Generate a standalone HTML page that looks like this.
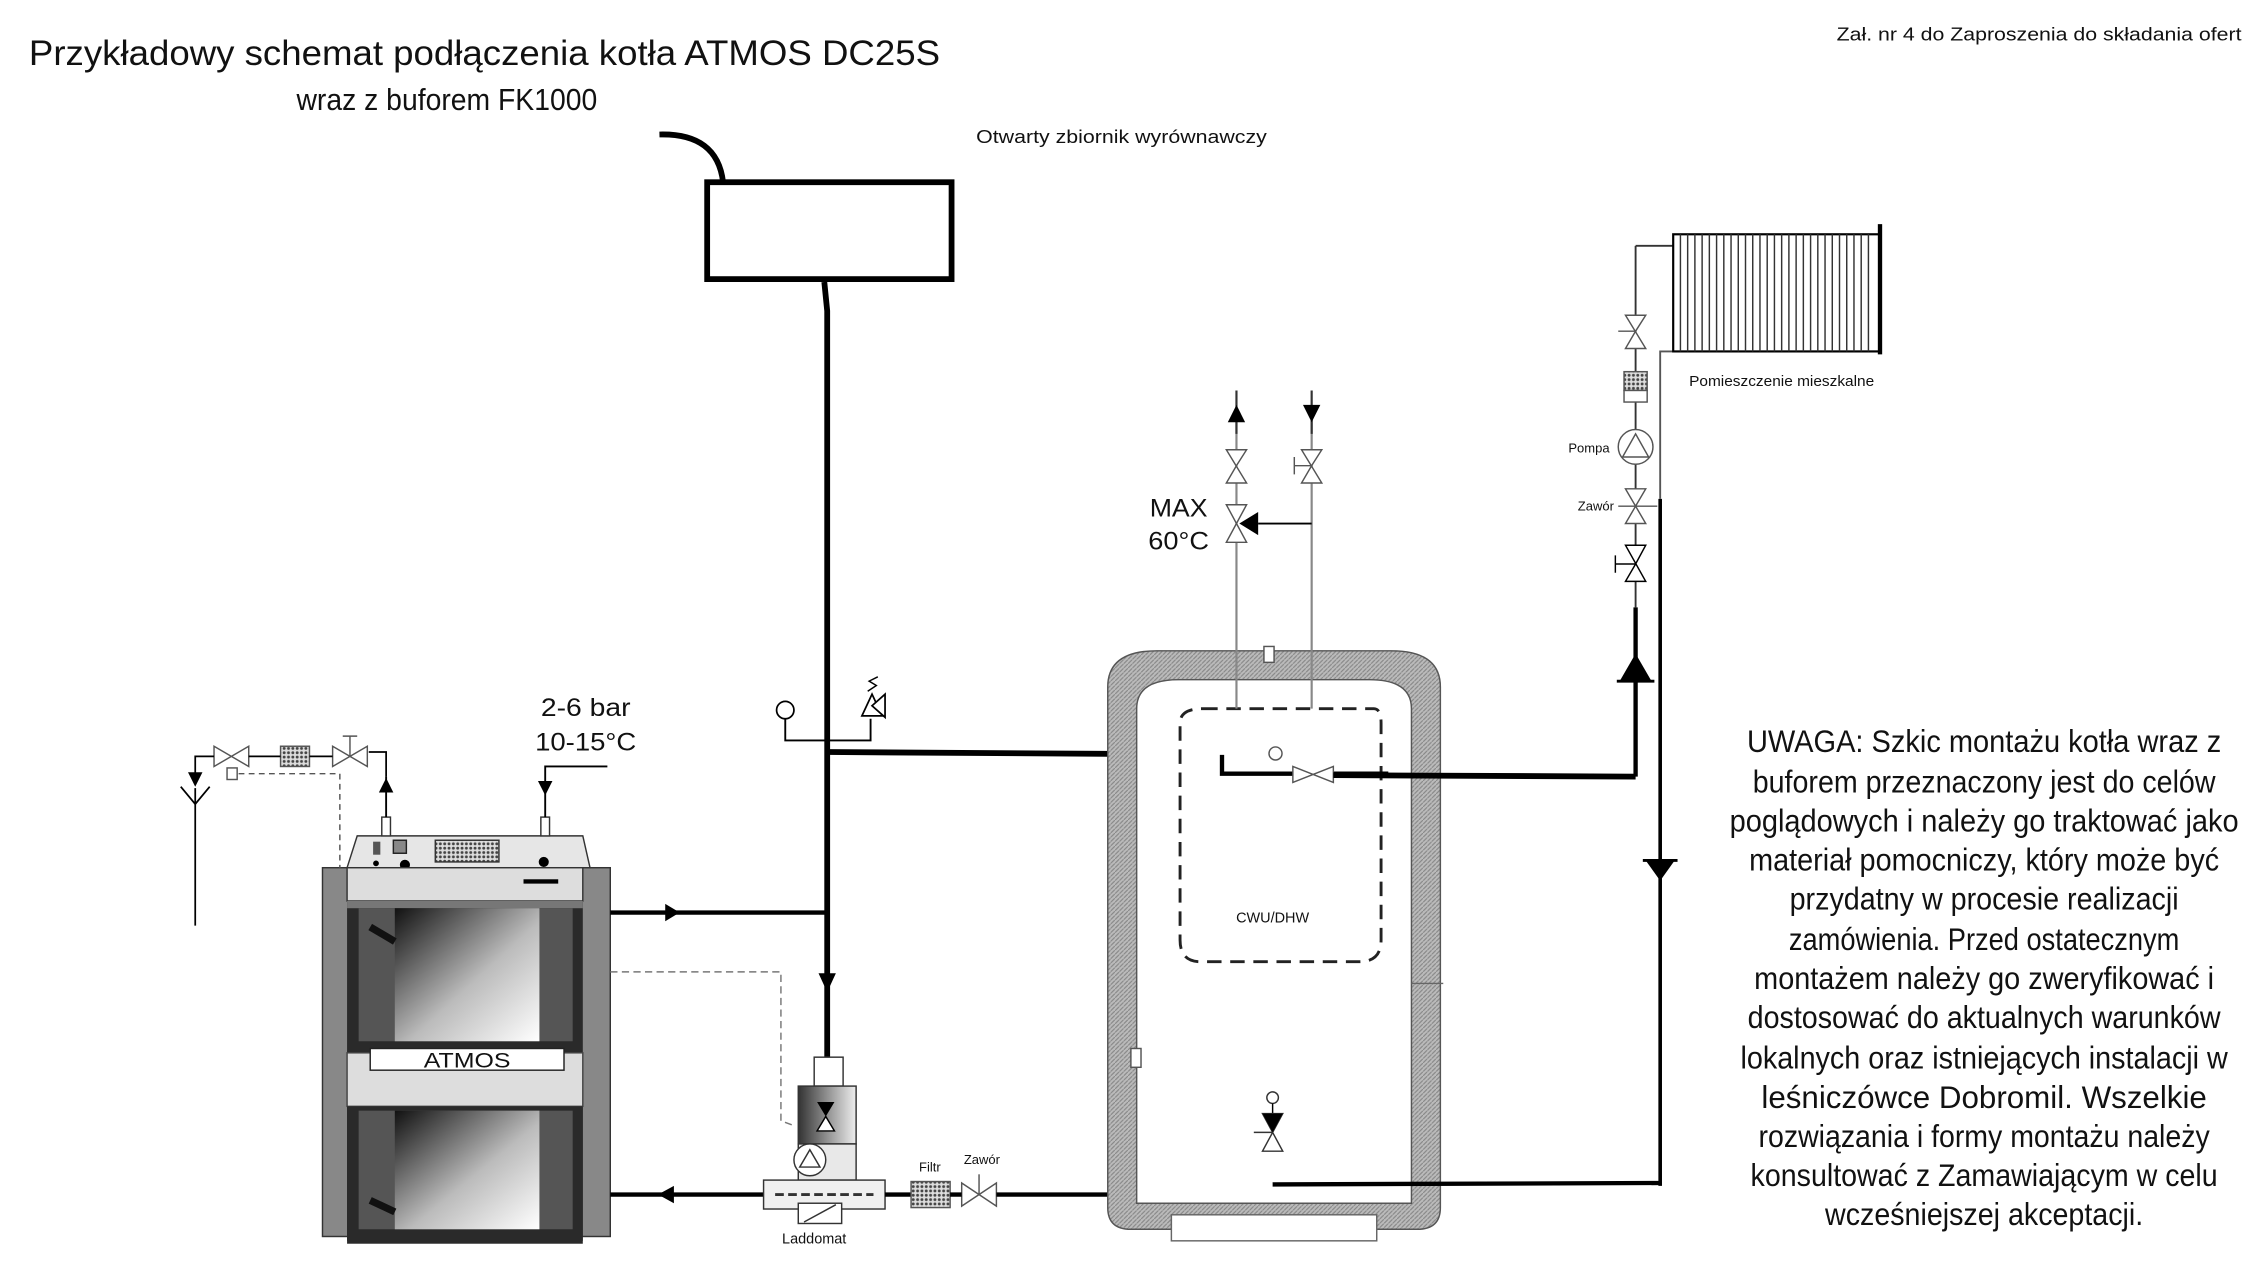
<!DOCTYPE html>
<html><head><meta charset="utf-8">
<style>
html,body{margin:0;padding:0;background:#fff;}
svg{display:block;}
text{font-family:"Liberation Sans",sans-serif;fill:#111;}
</style></head><body>
<svg width="2256" height="1278" viewBox="0 0 1560 883.7" preserveAspectRatio="none" xmlns="http://www.w3.org/2000/svg">
<defs>
<pattern id="hatch" width="3" height="3" patternUnits="userSpaceOnUse">
<rect width="3" height="3" fill="#bbb"/><path d="M0 3L3 0" stroke="#888" stroke-width="0.8"/>
</pattern>
<pattern id="mesh" width="3" height="3" patternUnits="userSpaceOnUse">
<rect width="3" height="3" fill="#ddd"/><circle cx="1.5" cy="1.5" r="1" fill="#444"/>
</pattern>
<linearGradient id="door" x1="0" y1="0" x2="1" y2="1">
<stop offset="0" stop-color="#111"/><stop offset="0.55" stop-color="#bbb"/><stop offset="1" stop-color="#fff"/>
</linearGradient>
<linearGradient id="lad" x1="0" y1="0" x2="1" y2="0">
<stop offset="0" stop-color="#333"/><stop offset="1" stop-color="#eee"/>
</linearGradient>
</defs>

<text x="20" y="45" font-size="24.5" textLength="630" lengthAdjust="spacingAndGlyphs">Przykładowy schemat podłączenia kotła ATMOS DC25S</text>
<text x="205" y="76" font-size="21" textLength="208" lengthAdjust="spacingAndGlyphs">wraz z buforem FK1000</text>
<text x="1270" y="28" font-size="13" textLength="280" lengthAdjust="spacingAndGlyphs">Zał. nr 4 do Zaproszenia do składania ofert</text>
<text x="675" y="99" font-size="13" textLength="201" lengthAdjust="spacingAndGlyphs">Otwarty zbiornik wyrównawczy</text>

<path d="M456 93 Q496 92 500 126" fill="none" stroke="#000" stroke-width="4"/>
<rect x="489" y="126" width="169" height="67" fill="#fff" stroke="#000" stroke-width="4"/>

<path d="M570 195 L572 215 L572 745" fill="none" stroke="#000" stroke-width="4"/>
<polygon points="566,673 578,673 572,686" fill="#000"/>
<path d="M543 497 V512 H602 V497" fill="none" stroke="#000" stroke-width="1.3"/>
<circle cx="543" cy="491" r="6" fill="#fff" stroke="#000" stroke-width="1.2"/>
<polygon points="596,495 603,480 610,495" fill="#fff" stroke="#000" stroke-width="1.2"/>
<polygon points="603,488 612,480 612,496" fill="#fff" stroke="#000" stroke-width="1.2"/>
<path d="M600 478 L606 474 L601 471 L607 468" fill="none" stroke="#000" stroke-width="1"/>
<path d="M572 520 L880 522" stroke="#000" stroke-width="4"/>

<rect x="223" y="600" width="26" height="255" fill="#888" stroke="#333" stroke-width="1"/>
<rect x="398" y="600" width="24" height="255" fill="#888" stroke="#333" stroke-width="1"/>
<polygon points="247,578 403,578 408,600 240,600" fill="#e6e6e6" stroke="#333"/>
<rect x="258" y="582" width="5" height="9" fill="#555"/>
<rect x="272" y="581" width="9" height="9" fill="#888" stroke="#222"/>
<rect x="301" y="581" width="44" height="15" fill="url(#mesh)" stroke="#333"/>
<circle cx="260" cy="597" r="2" fill="#000"/><circle cx="280" cy="598" r="3.5" fill="#000"/><circle cx="376" cy="596" r="3.5" fill="#000"/>
<rect x="240" y="600" width="163" height="23" fill="#ddd" stroke="#333"/>
<rect x="362" y="608" width="24" height="3" fill="#000"/>
<rect x="240" y="623" width="163" height="237" fill="#2a2a2a"/>
<rect x="240" y="623" width="163" height="5" fill="#777"/>
<rect x="248" y="628" width="148" height="92" fill="#555"/>
<rect x="273" y="628" width="100" height="92" fill="url(#door)"/>
<path d="M256 641 L273 651" stroke="#111" stroke-width="5"/>
<rect x="240" y="728" width="163" height="37" fill="#ddd" stroke="#444"/>
<rect x="256" y="725" width="134" height="15" fill="#fff" stroke="#222"/>
<text x="323" y="738" font-size="15" text-anchor="middle" textLength="60" lengthAdjust="spacingAndGlyphs">ATMOS</text>
<rect x="240" y="765" width="163" height="93" fill="#2a2a2a"/>
<rect x="248" y="768" width="148" height="82" fill="#555"/>
<rect x="273" y="768" width="100" height="82" fill="url(#door)"/>
<path d="M256 830 L273 838" stroke="#111" stroke-width="5"/>
<rect x="264" y="565" width="6" height="13" fill="#fff" stroke="#333"/>
<rect x="374" y="565" width="6" height="13" fill="#fff" stroke="#333"/>
<path d="M267 565 V537" stroke="#000" stroke-width="1.3"/><polygon points="262,548 272,548 267,538" fill="#000"/>
<path d="M377 565 V530 H420" fill="none" stroke="#000" stroke-width="1.3"/><polygon points="372,540 382,540 377,550" fill="#000"/>
<text x="405" y="495" font-size="17.5" text-anchor="middle" textLength="62" lengthAdjust="spacingAndGlyphs">2-6 bar</text>
<text x="405" y="519" font-size="17.5" text-anchor="middle" textLength="70" lengthAdjust="spacingAndGlyphs">10-15°C</text>
<path d="M267 537 V520 H255" fill="none" stroke="#000" stroke-width="1.2"/>
<polygon points="230,516 230,530 254,516 254,530" fill="#fff" stroke="#555"/>
<path d="M242 523 V509 M237 509 H247" stroke="#555"/>
<rect x="194" y="516" width="20" height="14" fill="url(#mesh)" stroke="#555"/>
<polygon points="148,516 148,530 172,516 172,530" fill="#fff" stroke="#555"/>
<rect x="157" y="531" width="7" height="8" fill="#fff" stroke="#555"/>
<path d="M214 523 H230 M172 523 H194 M148 523 H135 V540 M135 545 V640" fill="none" stroke="#000" stroke-width="1.2"/>
<polygon points="130,534 140,534 135,544" fill="#000"/>
<path d="M125 544 L135 556 L145 544" fill="none" stroke="#000" stroke-width="1.2"/>
<path d="M165 535 H235 V600" fill="none" stroke="#555" stroke-dasharray="4,3"/>
<path d="M422 631 H572" stroke="#000" stroke-width="3"/>
<polygon points="460,625 460,637 470,631" fill="#000"/>
<path d="M422 672 H540 V775 L548 778" fill="none" stroke="#777" stroke-dasharray="5,3"/>
<path d="M422 826 H528" stroke="#000" stroke-width="3"/>
<polygon points="466,820 466,832 455,826" fill="#000"/>
<rect x="563" y="731" width="20" height="20" fill="#fff" stroke="#333"/>
<rect x="552" y="751" width="40" height="40" fill="url(#lad)" stroke="#333"/>
<rect x="552" y="791" width="40" height="25" fill="#e8e8e8" stroke="#333"/>
<circle cx="560" cy="802" r="11" fill="#fff" stroke="#333"/>
<polygon points="553,807 567,807 560,795" fill="#fff" stroke="#333"/>
<polygon points="565,762 577,762 571,772" fill="#000"/><polygon points="565,782 577,782 571,772" fill="#fff" stroke="#000"/>
<rect x="528" y="816" width="84" height="20" fill="#f0f0f0" stroke="#333"/>
<rect x="552" y="832" width="30" height="14" fill="#fff" stroke="#333"/>
<path d="M556 845 L578 833" stroke="#333"/>
<path d="M536 826 H604" stroke="#333" stroke-dasharray="6,3" stroke-width="2"/>
<text x="563" y="860" font-size="10" text-anchor="middle">Laddomat</text>
<path d="M612 826 H630" stroke="#000" stroke-width="3"/>
<rect x="630" y="817" width="27" height="18" fill="url(#mesh)" stroke="#555"/>
<text x="643" y="810" font-size="9" text-anchor="middle">Filtr</text>
<polygon points="665,818 665,834 689,818 689,834" fill="#fff" stroke="#555"/>
<path d="M677 826 V812" stroke="#555"/>
<text x="679" y="805" font-size="9" text-anchor="middle">Zawór</text>
<path d="M657 826 H665 M689 826 H880 V795" fill="none" stroke="#000" stroke-width="3"/>

<path d="M766 835 V475 Q766 450 800 450 H962 Q996 450 996 475 V835 Q996 850 980 850 H782 Q766 850 766 835 Z" fill="url(#hatch)" stroke="#555"/>
<path d="M786 832 V490 Q786 470 815 470 H947 Q976 470 976 490 V832 Z" fill="#fff" stroke="#555"/>
<rect x="874" y="447" width="7" height="11" fill="#fff" stroke="#555"/>
<rect x="810" y="840" width="142" height="18" fill="#fff" stroke="#666"/>
<rect x="782" y="725" width="7" height="13" fill="#fff" stroke="#555"/>
<path d="M976 680 H998" stroke="#666"/>
<path d="M832 490 H950 Q955 490 955 500 V650 Q955 665 940 665 H830 Q816 665 816 650 V500 Q816 490 832 490" fill="none" stroke="#222" stroke-width="2" stroke-dasharray="10,6"/>
<text x="880" y="638" font-size="10" text-anchor="middle">CWU/DHW</text>
<path d="M845 522 V535 H894 M922 535 H960" fill="none" stroke="#000" stroke-width="3"/>
<circle cx="882" cy="521" r="4.5" fill="#fff" stroke="#555"/>
<polygon points="894,530 894,541 922,530 922,541" fill="#fff" stroke="#555"/>
<path d="M922 536 L1131 537" stroke="#000" stroke-width="4"/>
<circle cx="880" cy="759" r="4" fill="#fff" stroke="#333"/>
<path d="M880 763 V770" stroke="#000"/>
<polygon points="873,770 887,770 880,783 873,796 887,796" fill="#fff" stroke="#333"/>
<polygon points="873,770 887,770 880,783" fill="#000"/>
<path d="M867 783 H880" stroke="#333"/>
<path d="M855 490 V285 M907 490 V285" stroke="#888" stroke-width="1.5"/>
<path d="M855 300 V270 M907 300 V270" stroke="#333" stroke-width="1.5"/>
<polygon points="849,292 861,292 855,280" fill="#000"/>
<polygon points="901,280 913,280 907,292" fill="#000"/>
<polygon points="848,311 862,311 855,322 848,334 862,334" fill="#fff" stroke="#555"/>
<polygon points="900,311 914,311 907,322 900,334 914,334" fill="#fff" stroke="#555"/>
<path d="M895 322 H907 M895 316 V328" stroke="#555"/>
<polygon points="848,349 862,349 855,362 848,375 862,375" fill="#fff" stroke="#555"/>
<path d="M907 362 H870" stroke="#000" stroke-width="1.3"/>
<polygon points="857,362 870,354 870,370" fill="#000"/>
<text x="815" y="357" font-size="17" text-anchor="middle" textLength="40" lengthAdjust="spacingAndGlyphs">MAX</text>
<text x="815" y="380" font-size="17" text-anchor="middle" textLength="42" lengthAdjust="spacingAndGlyphs">60°C</text>

<path d="M1131 420 V537" stroke="#000" stroke-width="3"/>
<path d="M1131 170 V420 M1131 170 H1157" fill="none" stroke="#333" stroke-width="1.3"/>
<path d="M1148 345 V820" stroke="#000" stroke-width="2.5"/>
<path d="M1148 345 V243 H1157" fill="none" stroke="#555" stroke-width="1.3"/>
<polygon points="1124,218 1138,218 1131,229 1124,241 1138,241" fill="#fff" stroke="#555"/>
<path d="M1119 229 H1131" stroke="#555"/>
<rect x="1123" y="257" width="16" height="13" fill="url(#mesh)" stroke="#555"/>
<rect x="1123" y="270" width="16" height="8" fill="#fff" stroke="#555"/>
<circle cx="1131" cy="309" r="12" fill="#fff" stroke="#555"/>
<polygon points="1122,316 1140,316 1131,300" fill="none" stroke="#555"/>
<text x="1113" y="313" font-size="9" text-anchor="end">Pompa</text>
<polygon points="1124,338 1138,338 1131,350 1124,362 1138,362" fill="#fff" stroke="#555"/>
<path d="M1119 350 H1131 M1131 350 H1146" stroke="#555"/>
<text x="1116" y="353" font-size="9" text-anchor="end">Zawór</text>
<polygon points="1124,377 1138,377 1131,390 1124,402 1138,402" fill="#fff" stroke="#000"/>
<path d="M1117 390 H1131 M1117 384 V396" stroke="#000"/>
<polygon points="1131,452 1120,471 1142,471" fill="#000"/>
<path d="M1118 471 H1144" stroke="#000" stroke-width="2"/>
<polygon points="1148,609 1138,595 1158,595" fill="#000"/>
<path d="M1136 595 H1160" stroke="#000" stroke-width="2"/>
<path d="M880 819 L1148 818" stroke="#000" stroke-width="3"/>
<rect x="1157" y="162" width="143" height="81" fill="#fff" stroke="#000" stroke-width="1.5"/>
<g stroke="#333" stroke-width="1">
<path d="M1162 162V243M1167 162V243M1172 162V243M1177 162V243M1182 162V243M1187 162V243M1192 162V243M1197 162V243M1202 162V243M1207 162V243M1212 162V243M1217 162V243M1222 162V243M1227 162V243M1232 162V243M1237 162V243M1242 162V243M1247 162V243M1252 162V243M1257 162V243M1262 162V243M1267 162V243M1272 162V243M1277 162V243M1282 162V243M1287 162V243M1292 162V243"/>
</g>
<path d="M1300 155 V245" stroke="#000" stroke-width="3"/>
<text x="1168" y="267" font-size="10.5" textLength="128" lengthAdjust="spacingAndGlyphs">Pomieszczenie mieszkalne</text>

<g font-size="22" text-anchor="middle">
<text x="1372" y="520" textLength="328" lengthAdjust="spacingAndGlyphs">UWAGA:  Szkic montażu kotła wraz z</text>
<text x="1372" y="548" textLength="320" lengthAdjust="spacingAndGlyphs">buforem przeznaczony jest do celów</text>
<text x="1372" y="575" textLength="352" lengthAdjust="spacingAndGlyphs">poglądowych i  należy go traktować jako</text>
<text x="1372" y="602" textLength="325" lengthAdjust="spacingAndGlyphs">materiał pomocniczy, który może być</text>
<text x="1372" y="629" textLength="269" lengthAdjust="spacingAndGlyphs">przydatny w procesie realizacji</text>
<text x="1372" y="657" textLength="270" lengthAdjust="spacingAndGlyphs">zamówienia. Przed ostatecznym</text>
<text x="1372" y="684" textLength="318" lengthAdjust="spacingAndGlyphs">montażem należy go zweryfikować i</text>
<text x="1372" y="711" textLength="327" lengthAdjust="spacingAndGlyphs">dostosować do aktualnych warunków</text>
<text x="1372" y="739" textLength="337" lengthAdjust="spacingAndGlyphs">lokalnych oraz istniejących instalacji w</text>
<text x="1372" y="766" textLength="308" lengthAdjust="spacingAndGlyphs">leśniczówce Dobromil. Wszelkie</text>
<text x="1372" y="793" textLength="312" lengthAdjust="spacingAndGlyphs">rozwiązania i formy montażu należy</text>
<text x="1372" y="820" textLength="323" lengthAdjust="spacingAndGlyphs">konsultować z Zamawiającym w celu</text>
<text x="1372" y="847" textLength="220" lengthAdjust="spacingAndGlyphs">wcześniejszej akceptacji.</text>
</g>
</svg>
</body></html>
